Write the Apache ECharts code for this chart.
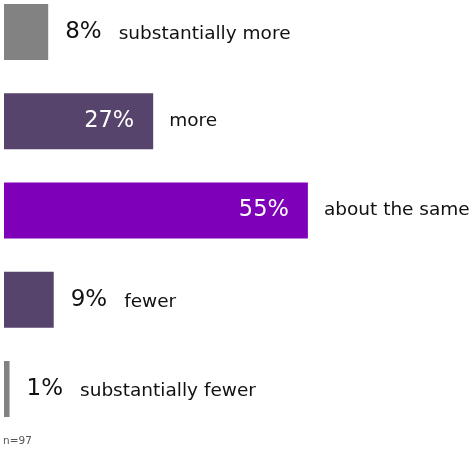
<!DOCTYPE html>
<html><head><meta charset="utf-8">
<script src="https://cdn.jsdelivr.net/npm/echarts@6/dist/echarts.min.js"></script>
<style>html,body{margin:0;padding:0;background:#fff}#c{width:474px;height:450px}</style>
</head><body><div id="c"></div>
<script>
const categories = ["substantially more", "more", "about the same", "fewer", "substantially fewer"];
const values = [8, 27, 55, 9, 1];
const valueLabels = ["8%", "27%", "55%", "9%", "1%"];
const labelInside = [false, true, true, false, false];
const barColors = ["#828282", "#56446c", "#7e00b8", "#56446c", "#828282"];
const note = "n=97";

const FONT = "DejaVu Sans";
const chart = echarts.init(document.getElementById('c'), null, {renderer: 'canvas'});
const mainData = values.map((v, i) => ({
  value: v,
  itemStyle: {color: barColors[i]},
  label: labelInside[i] ? {show: true, position: 'insideRight', distance: 19, color: '#fff', fontSize: 22.5, fontFamily: FONT, formatter: valueLabels[i]} : {show: false}
}));
const overlayData = values.map((v, i) => ({
  value: v,
  label: {
    show: true, position: 'right', distance: labelInside[i] ? 16 : 17,
    formatter: labelInside[i] ? '{c|' + categories[i] + '}' : '{v|' + valueLabels[i] + '}{g|}{cb|' + categories[i] + '}'
  }
}));
chart.setOption({
  animation: false,
  grid: {left: 4, width: 442, top: 32, height: 357, containLabel: false},
  xAxis: {type: 'value', min: 0, max: 80, show: false},
  yAxis: {type: 'category', data: categories, inverse: true, boundaryGap: false, show: false},
  graphic: [{type: 'text', left: 3, top: 436, style: {text: note, fill: '#555', fontSize: 10.5, fontFamily: FONT}}],
  series: [
    {type: 'bar', data: mainData, barWidth: 56},
    {type: 'bar', data: overlayData, barWidth: 56, barGap: '-100%', itemStyle: {color: 'rgba(0,0,0,0)'}, silent: true,
     label: {rich: {
       v: {fontSize: 23, color: '#111', fontFamily: FONT},
       g: {width: 17},
       c: {fontSize: 18.5, color: '#111', fontFamily: FONT},
       cb: {fontSize: 18.5, color: '#111', fontFamily: FONT, verticalAlign: 'bottom'}
     }}}
  ]
});
</script></body></html>
